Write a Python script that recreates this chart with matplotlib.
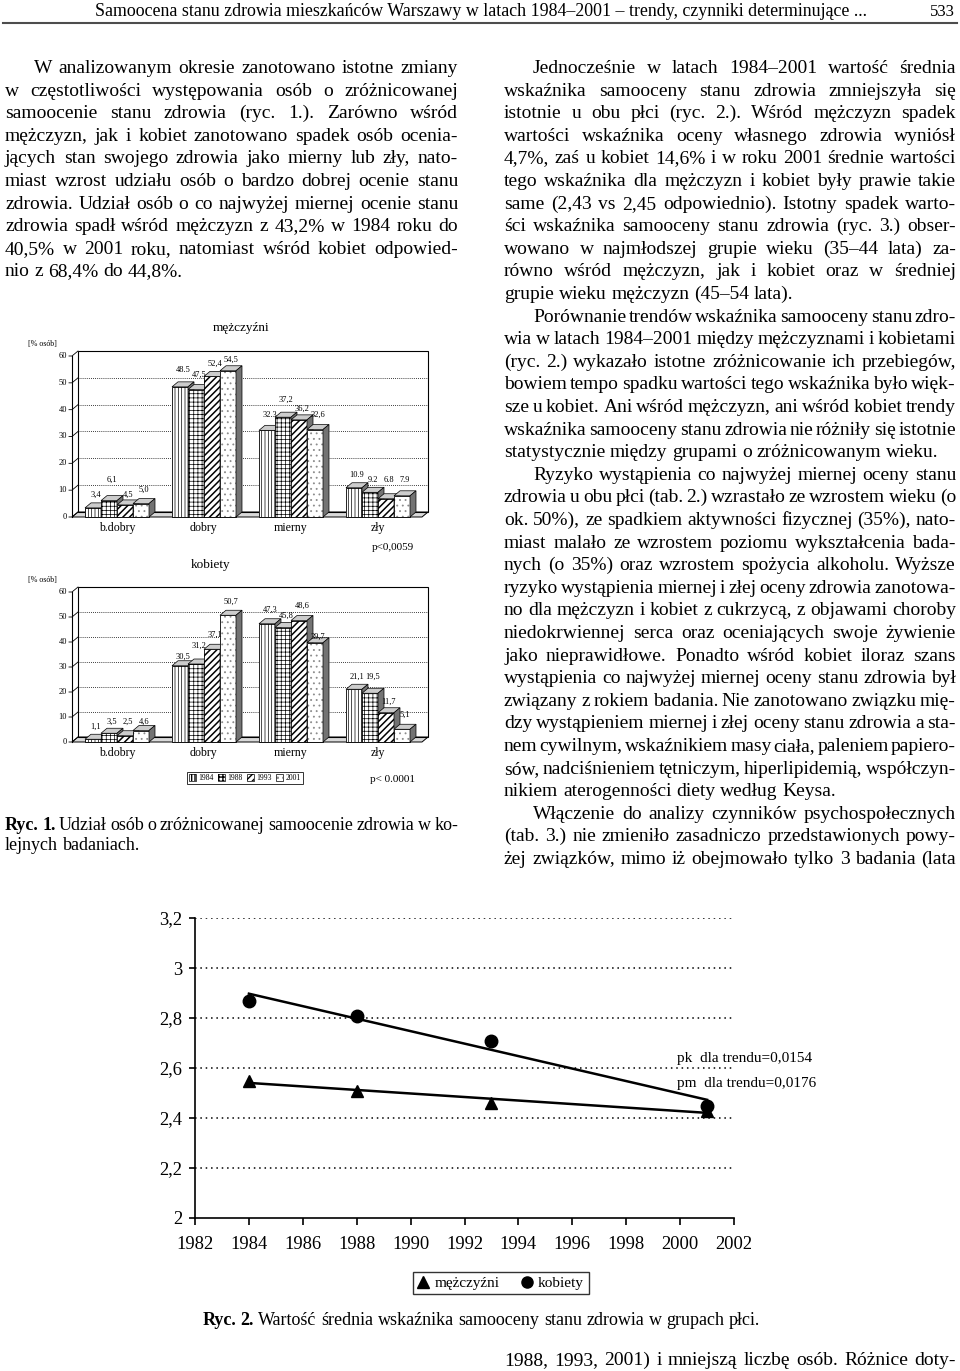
import matplotlib
matplotlib.use('Agg')
import matplotlib.pyplot as plt
import numpy as np
from matplotlib.patches import Polygon, Patch
from matplotlib.lines import Line2D

plt.rcParams['font.family'] = ['Liberation Serif', 'DejaVu Serif']

# ---- data (Ryc. 1) ----
categories = ['b.dobry', 'dobry', 'mierny', 'zły']
bar_years = ['1984', '1988', '1993', '2001']

men_pct = [[3.4, 6.1, 4.5, 5.0],
           [48.5, 47.5, 52.4, 54.5],
           [32.3, 37.2, 36.2, 32.6],
           [10.9, 9.2, 6.8, 7.9]]
men_labels = [['3,4', '6,1', '4,5', '5,0'],
              ['48.5', '47,5', '52,4', '54,5'],
              ['32.3', '37,2', '36,2', '32,6'],
              ['10.9', '9.2', '6.8', '7.9']]
women_pct = [[1.1, 3.5, 2.5, 4.6],
             [30.5, 31.2, 37.1, 50.7],
             [47.3, 45.8, 48.6, 39.7],
             [21.1, 19.5, 11.7, 5.1]]
women_labels = [['1,1', '3,5', '2,5', '4,6'],
                ['30,5', '31,2', '37,1', '50,7'],
                ['47,3', '45,8', '48,6', '39,7'],
                ['21,1', '19,5', '11,7', '5,1']]

# ---- data (Ryc. 2) ----
survey_years = [1984, 1988, 1993, 2001]
men_index = [2.55, 2.51, 2.46, 2.43]
women_index = [2.87, 2.81, 2.71, 2.45]
year_ticks = list(range(1982, 2003, 2))
index_ticks = [2.0, 2.2, 2.4, 2.6, 2.8, 3.0, 3.2]
index_tick_labels = ['2', '2,2', '2,4', '2,6', '2,8', '3', '3,2']

# label lift above bar top (value units) - just layout
men_lift = [[5, 7.7, 3.7, 5], [6.4, 5.5, 4.6, 4.1], [5.7, 6.5, 4.1, 5.4], [4.8, 4.6, 7, 5.9]]
women_lift = [[5, 4.6, 5.6, 3.5], [3.6, 7.2, 5.7, 5.4], [5.5, 4.6, 5.8, 2.5], [5, 6.6, 4.4, 5.7]]

# ---- page text ----
header = 'Samoocena stanu zdrowia mieszkańców Warszawy w latach 1984–2001 – trendy, czynniki determinujące ...'

left_col = [
    ('W analizowanym okresie zanotowano istotne zmiany', 'I'),
    ('w częstotliwości występowania osób o zróżnicowanej', 'J'),
    ('samoocenie stanu zdrowia (ryc. 1.). Zarówno wśród', 'J'),
    ('mężczyzn, jak i kobiet zanotowano spadek osób ocenia-', 'J'),
    ('jących stan swojego zdrowia jako mierny lub zły, nato-', 'J'),
    ('miast wzrost udziału osób o bardzo dobrej ocenie stanu', 'J'),
    ('zdrowia. Udział osób o co najwyżej miernej ocenie stanu', 'J'),
    ('zdrowia spadł wśród mężczyzn z 43,2% w 1984 roku do', 'J'),
    ('40,5% w 2001 roku, natomiast wśród kobiet odpowied-', 'J'),
    ('nio z 68,4% do 44,8%.', 'L'),
]

right_col = [
    ('Jednocześnie w latach 1984–2001 wartość średnia', 'I'),
    ('wskaźnika samooceny stanu zdrowia zmniejszyła się', 'J'),
    ('istotnie u obu płci (ryc. 2.). Wśród mężczyzn spadek', 'J'),
    ('wartości wskaźnika oceny własnego zdrowia wyniósł', 'J'),
    ('4,7%, zaś u kobiet 14,6% i w roku 2001 średnie wartości', 'J'),
    ('tego wskaźnika dla mężczyzn i kobiet były prawie takie', 'J'),
    ('same (2,43 vs 2,45 odpowiednio). Istotny spadek warto-', 'J'),
    ('ści wskaźnika samooceny stanu zdrowia (ryc. 3.) obser-', 'J'),
    ('wowano w najmłodszej grupie wieku (35–44 lata) za-', 'J'),
    ('równo wśród mężczyzn, jak i kobiet oraz w średniej', 'J'),
    ('grupie wieku mężczyzn (45–54 lata).', 'L'),
    ('Porównanie trendów wskaźnika samooceny stanu zdro-', 'I'),
    ('wia w latach 1984–2001 między mężczyznami i kobietami', 'J'),
    ('(ryc. 2.) wykazało istotne zróżnicowanie ich przebiegów,', 'J'),
    ('bowiem tempo spadku wartości tego wskaźnika było więk-', 'J'),
    ('sze u kobiet. Ani wśród mężczyzn, ani wśród kobiet trendy', 'J'),
    ('wskaźnika samooceny stanu zdrowia nie różniły się istotnie', 'J'),
    ('statystycznie między grupami o zróżnicowanym wieku.', 'L'),
    ('Ryzyko wystąpienia co najwyżej miernej oceny stanu', 'I'),
    ('zdrowia u obu płci (tab. 2.) wzrastało ze wzrostem wieku (o', 'J'),
    ('ok. 50%), ze spadkiem aktywności fizycznej (35%), nato-', 'J'),
    ('miast malało ze wzrostem poziomu wykształcenia bada-', 'J'),
    ('nych (o 35%) oraz wzrostem spożycia alkoholu. Wyższe', 'J'),
    ('ryzyko wystąpienia miernej i złej oceny zdrowia zanotowa-', 'J'),
    ('no dla mężczyzn i kobiet z cukrzycą, z objawami choroby', 'J'),
    ('niedokrwiennej serca oraz oceniających swoje żywienie', 'J'),
    ('jako nieprawidłowe. Ponadto wśród kobiet iloraz szans', 'J'),
    ('wystąpienia co najwyżej miernej oceny stanu zdrowia był', 'J'),
    ('związany z rokiem badania. Nie zanotowano związku mię-', 'J'),
    ('dzy wystąpieniem miernej i złej oceny stanu zdrowia a sta-', 'J'),
    ('nem cywilnym, wskaźnikiem masy ciała, paleniem papiero-', 'J'),
    ('sów, nadciśnieniem tętniczym, hiperlipidemią, współczyn-', 'J'),
    ('nikiem aterogenności diety według Keysa.', 'L'),
    ('Włączenie do analizy czynników psychospołecznych', 'I'),
    ('(tab. 3.) nie zmieniło zasadniczo przedstawionych powy-', 'J'),
    ('żej związków, mimo iż obejmowało tylko 3 badania (lata', 'J'),
]

W, H = 960, 1371
fig = plt.figure(figsize=(9.6, 13.71), dpi=100)
renderer = fig.canvas.get_renderer()
BODY = 14


def put(x, y, s, size, ha='left', va='baseline', weight='normal', **kw):
    return fig.text(x / W, 1 - y / H, s, fontsize=size, ha=ha, va=va,
                    fontweight=weight, **kw)


def width(t):
    return t.get_window_extent(renderer).width


def text_line(s, x0, x1, y, size, justify=True):
    # words wrapped in * are bold; returns the drawn texts and end x
    runs = []
    for w in s.split(' '):
        bold = w.startswith('*')
        runs.append(put(0, y, w.strip('*'), size, weight='bold' if bold else 'normal'))
    widths = [width(t) for t in runs]
    gap = size * 100 / 72 * 0.25
    if justify and len(runs) > 1:
        gap = max((x1 - x0 - sum(widths)) / (len(runs) - 1), 2)
    x = x0
    for t, w in zip(runs, widths):
        t.set_x(x / W)
        x += w + gap
    return runs, x - gap


def column(lines, x0, x1, y0, step):
    for k, (s, kind) in enumerate(lines):
        y = y0 + k * step + 5
        if kind == 'I':
            text_line(s, x0 + 29, x1, y, BODY)
        else:
            text_line(s, x0, x1, y, BODY, justify=(kind == 'J'))


# header
t = put(95, 16, header, 12)
t.set_fontsize(12 * 770 / width(t))
put(955, 16, '533', 12, ha='right')
fig.add_artist(Line2D([3 / W, 957 / W], [1 - 23 / H] * 2, color='0.3', lw=1.5))

column(left_col, 5, 458, 68, 22.6)
column(right_col, 504, 956, 68, 22.6)
text_line('1988, 1993, 2001) i mniejszą liczbę osób. Różnice doty-', 504, 956, 1365, BODY)

# ---- Ryc. 1: 3D-style bar charts ----
hatches = ['|||||', '++++', '/////', '...']
hatch_lw = [0.5, 0.5, 1.1, 0.6]
hatch_col = ['black', 'black', 'black', '0.55']


def bar_chart(values, labels, lifts, y0, y60):
    xl, xr, c0, step = 72, 428, 117, 87
    ax = fig.add_axes([xl / W, 1 - y0 / H, (xr - xl) / W, (y0 - y60) / H])
    lo, hi = (xl - c0) / step, (xr - c0) / step
    ax.set_xlim(lo, hi)
    ax.set_ylim(0, 60)
    ax.axis('off')
    sy = (y0 - y60) / 60
    dx, dy = 6 / step, 5 / sy
    bw = 16 / step
    ax.add_patch(Polygon([(lo, 0), (hi - dx, 0), (hi, dy), (lo + dx, dy)],
                         fc='0.85', ec='black', lw=0.7, clip_on=False))
    ax.add_patch(Polygon([(lo + dx, dy), (hi, dy), (hi, 60 + dy), (lo + dx, 60 + dy)],
                         fill=False, ec='black', lw=0.8, clip_on=False))
    for k in range(10, 60, 10):
        ax.plot([lo + dx, hi], [k + dy] * 2, color='black', lw=0.6,
                ls=(0, (1, 1.5)), clip_on=False)
    ax.plot([lo, lo], [0, 60], color='black', lw=0.8, clip_on=False)
    for k in range(0, 61, 10):
        ax.plot([lo - 3 / step, lo, lo + dx], [k, k, k + dy], color='black',
                lw=0.6, clip_on=False)
        ax.text(lo - 5 / step, k, str(k), ha='right', va='center', fontsize=6)
    z = 3
    for i, grp in enumerate(values):
        for j, v in enumerate(grp):
            x = i + (j - 1.5) * bw
            with plt.rc_context({'hatch.linewidth': hatch_lw[j]}):
                ax.bar(x, v, width=bw, color='white', edgecolor=hatch_col[j],
                       hatch=hatches[j], lw=0, zorder=z, clip_on=False)
            ax.bar(x, v, width=bw, fill=False, edgecolor='black', lw=0.6,
                   zorder=z, clip_on=False)
            top = [(x - bw / 2, v), (x + bw / 2, v), (x + bw / 2 + dx, v + dy),
                   (x - bw / 2 + dx, v + dy)]
            side = [(x + bw / 2, 0), (x + bw / 2 + dx, dy), (x + bw / 2 + dx, v + dy),
                    (x + bw / 2, v)]
            ax.add_patch(Polygon(top, fc='0.8', ec='black', lw=0.5, zorder=z, clip_on=False))
            ax.add_patch(Polygon(side, fc='0.45', ec='black', lw=0.5, zorder=z, clip_on=False))
            z += 1
            ax.text(x + dx / 2, v + lifts[i][j], labels[i][j], ha='center',
                    va='center', fontsize=6, zorder=50)
    for i, c in enumerate(categories):
        ax.annotate(c, (i, 0), xytext=(0, -8), textcoords='offset points',
                    ha='center', va='center', fontsize=8.6, annotation_clip=False)
    return ax


bar_chart(men_pct, men_labels, men_lift, 517, 356)
put(213, 328, 'mężczyźni', 9.5, va='center')
put(42, 344, '[% osób]', 5.8, ha='center', va='center')
put(393, 548, 'p<0,0059', 8, ha='center', va='center')

bar_chart(women_pct, women_labels, women_lift, 742, 592)
put(211, 565, 'kobiety', 9.5, va='center', ha='center')
put(42, 580, '[% osób]', 5.8, ha='center', va='center')
put(393, 779, 'p< 0.0001', 8, ha='center', va='center')

handles = []
for j in range(4):
    with plt.rc_context({'hatch.linewidth': hatch_lw[j]}):
        fill = Patch(facecolor='white', edgecolor=hatch_col[j], hatch=hatches[j], lw=0)
    handles.append((fill, Patch(fill=False, edgecolor='black', lw=0.5)))
leg = fig.legend(handles, bar_years, loc='center', bbox_to_anchor=(245 / W, 1 - 778 / H),
                 ncol=4, fontsize=5.5, frameon=True, fancybox=False, edgecolor='black',
                 handlelength=0.9, handleheight=0.9, handletextpad=0.3,
                 columnspacing=0.6, borderpad=0.3)
leg.get_frame().set_linewidth(0.7)

text_line('*Ryc.* *1.* Udział osób o zróżnicowanej samoocenie zdrowia w ko-', 5, 458, 830, 13)
text_line('lejnych badaniach.', 5, 458, 850, 13, justify=False)

# ---- Ryc. 2: mean index with linear trends ----
ax2 = fig.add_axes([195 / W, 1 - 1218 / H, (734 - 195) / W, 300 / H])
ax2.set_xlim(1982, 2002)
ax2.set_ylim(2, 3.2)
for s in ['top', 'right']:
    ax2.spines[s].set_visible(False)
for s in ['left', 'bottom']:
    ax2.spines[s].set_linewidth(1.2)
for v in index_ticks[1:]:
    ax2.axhline(v, color='black', lw=1.1, ls=(0, (1, 2.5)), zorder=1)
ax2.set_xticks(year_ticks)
ax2.set_yticks(index_ticks, index_tick_labels)
ax2.tick_params(labelsize=13.3, width=1.2, direction='out')
ax2.tick_params(axis='x', length=5, pad=8)
ax2.tick_params(axis='y', length=4, pad=5)

fit_years = np.array([survey_years[0], survey_years[-1]])
for series, marker in [(women_index, 'o'), (men_index, '^')]:
    coef = np.polyfit(survey_years, series, 1)
    ax2.plot(fit_years, np.polyval(coef, fit_years), color='black', lw=1.8, zorder=3)
    ax2.plot(survey_years, series, ls='none', marker=marker, color='black', ms=9,
             zorder=4, clip_on=False)

put(677, 1062, 'pk  dla trendu=0,0154', 11)
put(677, 1087, 'pm  dla trendu=0,0176', 11)

lh = [Line2D([], [], marker='^', color='black', ls='none', ms=8),
      Line2D([], [], marker='o', color='black', ls='none', ms=8)]
leg2 = fig.legend(lh, ['mężczyźni', 'kobiety'], loc='center',
                  bbox_to_anchor=(501 / W, 1 - 1283 / H), ncol=2, fontsize=11,
                  frameon=True, fancybox=False, edgecolor='black', handlelength=0.7,
                  handletextpad=0.4, columnspacing=1.4, borderpad=0.3)
leg2.get_frame().set_linewidth(1.0)

# centred caption with bold lead
runs, end = text_line('*Ryc.* *2.* Wartość średnia wskaźnika samooceny stanu zdrowia w grupach płci.',
                      0, 0, 1325, 13, justify=False)
shift = 481 - end / 2
for t in runs:
    t.set_x(t.get_position()[0] + shift / W)

fig.savefig('out.png', dpi=100, facecolor='white')
